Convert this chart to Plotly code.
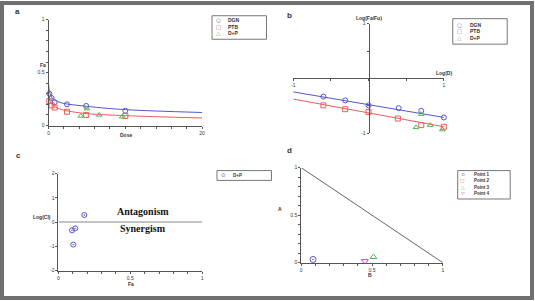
import plotly.graph_objects as go

W, H = 535, 301

# ---------------- data ----------------
# Panel a: dose-effect
dose_dgn = [0.1, 0.4, 0.8, 2.4, 4.9, 10]
fa_dgn = [0.30, 0.26, 0.22, 0.20, 0.185, 0.14]
dose_ptb = [0.1, 0.4, 0.8, 2.4, 4.9, 10]
fa_ptb = [0.23, 0.19, 0.17, 0.13, 0.10, 0.09]
dose_dp = [4.2, 5.0, 6.6, 9.6]
fa_dp = [0.09, 0.16, 0.10, 0.083]
curve_dose = [0.02, 0.1, 0.3, 0.6, 1, 2, 3.5, 5, 7.5, 10, 14, 20]
curve_dgn = [0.38, 0.33, 0.28, 0.25, 0.232, 0.208, 0.193, 0.181, 0.163, 0.150, 0.137, 0.123]
curve_ptb = [0.29, 0.245, 0.21, 0.19, 0.17, 0.145, 0.125, 0.112, 0.101, 0.093, 0.083, 0.071]

# Panel b: median-effect plot
logd_dgn = [-0.6, -0.31, 0.0, 0.40, 0.70, 1.0]
logr_dgn = [-0.33, -0.40, -0.49, -0.54, -0.59, -0.71]
logd_ptb = [-0.6, -0.31, 0.0, 0.39, 0.70, 1.0]
logr_ptb = [-0.49, -0.56, -0.61, -0.73, -0.85, -0.88]
logd_dp = [0.70, 0.63, 0.82, 0.98]
logr_dp = [-0.65, -0.89, -0.85, -0.93]
fit_logd = [-1, 1]
fit_dgn = [-0.245, -0.71]
fit_ptb = [-0.375, -0.88]

# Panel c: combination index
ci_fa = [0.18, 0.117, 0.094, 0.103]
ci_log = [0.29, -0.26, -0.34, -0.93]
ci_ref = 0

# Panel d: isobologram
iso_b = [0, 1]
iso_a = [1, 0]
point_names = ["Point 1", "Point 2", "Point 3", "Point 4"]
point_b = [0.084, None, 0.51, 0.45]
point_a = [0.034, None, 0.06, 0.017]

series_ab = ["DGN", "PTB", "D+P"]

# ---------------- style ----------------
BLUE = "rgb(85,85,205)"
RED = "rgb(240,90,90)"
GREEN = "rgb(80,185,80)"
MAG = "rgb(200,70,200)"
AX = "#555555"
TXT = "#333333"
FONT = "Liberation Sans"


def xd(p0, p1):
    return [p0 / W, p1 / W]


def yd(top, bottom):
    return [1 - bottom / H, 1 - top / H]


def px(x):
    return x / W


def py(y):
    return 1 - y / H


def ticks(vals, shown):
    return [("%g" % v if any(abs(v - s) < 1e-9 for s in shown) else "") for v in vals]


fig = go.Figure()

# ---- panel a ----
fig.add_trace(go.Scatter(x=curve_dose, y=curve_dgn, mode="lines", line=dict(color=BLUE, width=1, shape="spline"),
                         xaxis="x", yaxis="y", showlegend=False, cliponaxis=False))
fig.add_trace(go.Scatter(x=curve_dose, y=curve_ptb, mode="lines", line=dict(color=RED, width=1, shape="spline"),
                         xaxis="x", yaxis="y", showlegend=False, cliponaxis=False))
fig.add_trace(go.Scatter(x=dose_dgn, y=fa_dgn, mode="markers", name="DGN",
                         marker=dict(symbol="circle-open", size=5, color=BLUE, line=dict(width=1)),
                         xaxis="x", yaxis="y", showlegend=False, cliponaxis=False))
fig.add_trace(go.Scatter(x=dose_ptb, y=fa_ptb, mode="markers", name="PTB",
                         marker=dict(symbol="square-open", size=5, color=RED, line=dict(width=1)),
                         xaxis="x", yaxis="y", showlegend=False, cliponaxis=False))
fig.add_trace(go.Scatter(x=dose_dp, y=fa_dp, mode="markers", name="D+P",
                         marker=dict(symbol="triangle-up-open", size=5, color=GREEN, line=dict(width=1)),
                         xaxis="x", yaxis="y", showlegend=False, cliponaxis=False))

# ---- panel b ----
fig.add_trace(go.Scatter(x=fit_logd, y=fit_dgn, mode="lines", line=dict(color=BLUE, width=1),
                         xaxis="x2", yaxis="y2", showlegend=False))
fig.add_trace(go.Scatter(x=fit_logd, y=fit_ptb, mode="lines", line=dict(color=RED, width=1),
                         xaxis="x2", yaxis="y2", showlegend=False))
fig.add_trace(go.Scatter(x=logd_dgn, y=logr_dgn, mode="markers", name="DGN",
                         marker=dict(symbol="circle-open", size=5, color=BLUE, line=dict(width=1)),
                         xaxis="x2", yaxis="y2", showlegend=False, cliponaxis=False))
fig.add_trace(go.Scatter(x=logd_ptb, y=logr_ptb, mode="markers", name="PTB",
                         marker=dict(symbol="square-open", size=5, color=RED, line=dict(width=1)),
                         xaxis="x2", yaxis="y2", showlegend=False, cliponaxis=False))
fig.add_trace(go.Scatter(x=logd_dp, y=logr_dp, mode="markers", name="D+P",
                         marker=dict(symbol="triangle-up-open", size=5, color=GREEN, line=dict(width=1)),
                         xaxis="x2", yaxis="y2", showlegend=False, cliponaxis=False))

# ---- panel c ----
fig.add_trace(go.Scatter(x=ci_fa, y=ci_log, mode="markers", name="D+P",
                         marker=dict(symbol="circle-open-dot", size=5, color=BLUE, line=dict(width=1)),
                         xaxis="x3", yaxis="y3", showlegend=False, cliponaxis=False))
fig.add_shape(type="line", xref="x3", yref="y3", x0=0, x1=1, y0=ci_ref, y1=ci_ref,
              line=dict(color="#888888", width=1))

# ---- panel d ----
fig.add_trace(go.Scatter(x=iso_b, y=iso_a, mode="lines", line=dict(color="#666666", width=1),
                         xaxis="x4", yaxis="y4", showlegend=False))
pt_syms = ["circle-open-dot", "square-open", "triangle-up-open", "triangle-down-open"]
pt_cols = [BLUE, RED, GREEN, MAG]
for i, nm in enumerate(point_names):
    fig.add_trace(go.Scatter(x=[point_b[i]], y=[point_a[i]], mode="markers", name=nm,
                             marker=dict(symbol=pt_syms[i], size=6, color=pt_cols[i], line=dict(width=1)),
                             xaxis="x4", yaxis="y4", showlegend=False, cliponaxis=False))

# ---------------- axes ----------------
tf = dict(family=FONT, size=5, color=TXT)
base = dict(showline=True, linecolor=AX, linewidth=1, ticks="outside", ticklen=2, tickwidth=1,
            tickcolor=AX, showgrid=False, zeroline=False, tickfont=tf, fixedrange=True)

xa_vals = list(range(0, 21, 2))
frac = [round(i * 0.1, 1) for i in range(11)]

dom_x2 = xd(294, 446)
dom_y2 = yd(21, 133)
rng2 = [-1, 1]
xpos2 = dom_y2[0] + (0 - rng2[0]) / (rng2[1] - rng2[0]) * (dom_y2[1] - dom_y2[0])
ypos2 = dom_x2[0] + (0 - rng2[0]) / (rng2[1] - rng2[0]) * (dom_x2[1] - dom_x2[0])
b_vals = [-1, -0.5, 0, 0.5, 1]

fig.update_layout(
    xaxis=dict(base, domain=xd(47, 202), range=[0, 20], anchor="y",
               tickmode="array", tickvals=xa_vals, ticktext=ticks(xa_vals, [0, 20])),
    yaxis=dict(base, domain=yd(17, 125), range=[0, 1], anchor="x",
               tickmode="array", tickvals=frac, ticktext=ticks(frac, [0, 0.5, 1])),
    xaxis2=dict(base, domain=dom_x2, range=rng2, anchor="free", position=xpos2,
                tickmode="array", tickvals=b_vals, ticktext=ticks(b_vals, [-1, 1])),
    yaxis2=dict(base, domain=dom_y2, range=rng2, anchor="free", position=ypos2,
                tickmode="array", tickvals=b_vals, ticktext=ticks(b_vals, [-1, 1])),
    xaxis3=dict(base, domain=xd(57, 202), range=[0, 1], anchor="y3",
                tickmode="array", tickvals=frac, ticktext=ticks(frac, [0, 0.5, 1])),
    yaxis3=dict(base, domain=yd(174, 273), range=[-2, 2], anchor="x3",
                tickmode="array", tickvals=[-2, -1, 0, 1, 2], ticktext=["-2", "-1", "0", "1", "2"]),
    xaxis4=dict(base, domain=xd(302, 445), range=[0, 1], anchor="y4",
                tickmode="array", tickvals=frac, ticktext=ticks(frac, [0, 0.5, 1])),
    yaxis4=dict(base, domain=yd(168, 265), range=[0, 1], anchor="x4",
                tickmode="array", tickvals=frac, ticktext=ticks(frac, [0, 0.5, 1])),
)

# ---------------- annotations ----------------
anns = []


def ann(x, y, text, size=5, xanchor="center", color=TXT, family=FONT, bold=False):
    t = "<b>%s</b>" % text if bold else text
    anns.append(dict(xref="paper", yref="paper", x=px(x), y=py(y), text=t, showarrow=False,
                     xanchor=xanchor, yanchor="middle", borderpad=0,
                     font=dict(family=family, size=size, color=color)))


# panel letters
ann(16, 9, "a", size=8, bold=True)
ann(290, 13, "b", size=8, bold=True)
ann(17, 156, "c", size=8, bold=True)
ann(290, 151, "d", size=8, bold=True)

# axis titles
ann(41, 63.5, "Fa", bold=True)
ann(125, 135, "Dose", bold=True)
ann(370, 15, "Log(Fa/Fu)", bold=True)
ann(446, 71, "Log(D)", bold=True)
ann(40, 218, "Log(CI)", bold=True)
ann(130, 287, "Fa", bold=True)
ann(281, 210, "A", bold=True)
ann(371, 278, "B", bold=True)

# region labels in panel c
ann(142, 213, "Antagonism", size=10, color="#111111", family="Liberation Serif", bold=True)
ann(142, 230, "Synergism", size=10, color="#111111", family="Liberation Serif", bold=True)

# manual legends
shapes = []


def legend(x0, y0, x1, y1, items, sym_x, txt_x, ys, size=5, sym_size=5.5):
    shapes.append(dict(type="rect", xref="paper", yref="paper", x0=px(x0), x1=px(x1), y0=py(y1), y1=py(y0),
                       line=dict(color="#777777", width=1), fillcolor="white", layer="below"))
    for (sym, col, label), yy in zip(items, ys):
        ann(sym_x, yy, sym, size=sym_size, color=col, family="DejaVu Sans")
        ann(txt_x, yy, label, size=size, xanchor="left", bold=True)


ab_items = list(zip(["○", "□", "△"], [BLUE, RED, GREEN], series_ab))
legend(212, 13, 267, 37, ab_items, 219, 227, [17, 24, 31])
legend(455, 16, 510, 42, ab_items, 462, 471, [22, 29, 36])
legend(217, 171, 272, 181, [("⊙", BLUE, series_ab[2])], 224, 232, [176], size=4.5)
legend(460, 171, 513, 200, list(zip(["⊙", "□", "△", "▽"], pt_cols, point_names)),
       465, 475, [175, 181.5, 188, 194.5], size=4.5, sym_size=4.8)

# frame around the whole figure
shapes.append(dict(type="rect", xref="paper", yref="paper", x0=0, x1=1, y0=0, y1=1,
                   line=dict(color="#707070", width=4)))

fig.update_layout(
    width=W, height=H, autosize=False,
    margin=dict(l=0, r=0, t=0, b=0, pad=0),
    paper_bgcolor="white", plot_bgcolor="white",
    showlegend=False,
    annotations=anns, shapes=list(fig.layout.shapes) + shapes,
    font=dict(family=FONT, size=5, color=TXT),
)

fig.write_html("out.html", config={"displayModeBar": False, "staticPlot": True},
               post_script="document.body.style.margin='0';document.body.style.overflow='hidden';")
